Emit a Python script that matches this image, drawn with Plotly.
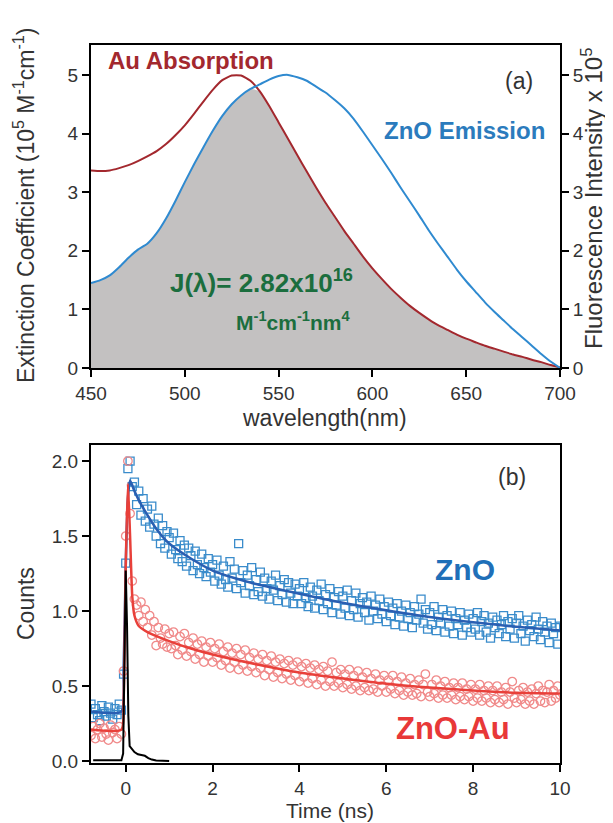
import plotly.graph_objects as go

# ---------------- Panel (a) data ----------------
wavelength_nm = [450, 455, 460, 465, 470, 475, 480, 485, 490, 495,
                 500, 505, 510, 515, 520, 525, 530, 535, 540, 545,
                 550, 555, 560, 565, 570, 575, 580, 585, 590, 595,
                 600, 605, 610, 615, 620, 625, 630, 635, 640, 645,
                 650, 655, 660, 665, 670, 675, 680, 685, 690, 695, 700]

au_absorption = [3.37, 3.36, 3.37, 3.41, 3.46, 3.53, 3.61, 3.70, 3.82, 3.97,
                 4.14, 4.34, 4.55, 4.75, 4.91, 4.99, 4.99, 4.90, 4.72, 4.47,
                 4.19, 3.91, 3.63, 3.35, 3.08, 2.82, 2.58, 2.34, 2.12, 1.90,
                 1.70, 1.52, 1.35, 1.20, 1.06, 0.94, 0.83, 0.73, 0.65, 0.57,
                 0.50, 0.44, 0.38, 0.33, 0.28, 0.23, 0.19, 0.14, 0.10, 0.05, 0.01]

zno_emission = [1.45, 1.50, 1.58, 1.72, 1.88, 2.02, 2.12, 2.30, 2.55, 2.85,
                3.17, 3.48, 3.77, 4.05, 4.30, 4.50, 4.65, 4.76, 4.84, 4.92,
                4.98, 5.00, 4.96, 4.90, 4.80, 4.70, 4.57, 4.43, 4.25, 4.03,
                3.80, 3.57, 3.33, 3.08, 2.84, 2.60, 2.35, 2.12, 1.90, 1.68,
                1.48, 1.30, 1.12, 0.96, 0.81, 0.66, 0.52, 0.38, 0.24, 0.11, 0.00]

overlap = [min(a, e) for a, e in zip(au_absorption, zno_emission)]

# ---------------- Panel (b) data ----------------
time_ns = [-0.80, -0.75, -0.70, -0.65, -0.60, -0.55, -0.50, -0.45, -0.40, -0.35,
           -0.30, -0.25, -0.20, -0.15, -0.10, -0.05, 0.00, 0.05, 0.10, 0.15,
           0.20, 0.25, 0.30, 0.35, 0.40, 0.45, 0.50, 0.55, 0.60, 0.65,
           0.70, 0.75, 0.80, 0.85, 0.90, 0.95,
           1.00, 1.05, 1.10, 1.15, 1.20, 1.25, 1.30, 1.35, 1.40, 1.45,
           1.50, 1.55, 1.60, 1.65, 1.70, 1.75, 1.80, 1.85, 1.90, 1.95,
           2.00, 2.05, 2.10, 2.15, 2.20, 2.25, 2.30, 2.35, 2.40, 2.45,
           2.50, 2.55, 2.60, 2.65, 2.70, 2.75, 2.80, 2.85, 2.90, 2.95,
           3.00, 3.05, 3.10, 3.15, 3.20, 3.25, 3.30, 3.35, 3.40, 3.45,
           3.50, 3.55, 3.60, 3.65, 3.70, 3.75, 3.80, 3.85, 3.90, 3.95,
           4.00, 4.05, 4.10, 4.15, 4.20, 4.25, 4.30, 4.35, 4.40, 4.45,
           4.50, 4.55, 4.60, 4.65, 4.70, 4.75, 4.80, 4.85, 4.90, 4.95,
           5.00, 5.05, 5.10, 5.15, 5.20, 5.25, 5.30, 5.35, 5.40, 5.45,
           5.50, 5.55, 5.60, 5.65, 5.70, 5.75, 5.80, 5.85, 5.90, 5.95,
           6.00, 6.05, 6.10, 6.15, 6.20, 6.25, 6.30, 6.35, 6.40, 6.45,
           6.50, 6.55, 6.60, 6.65, 6.70, 6.75, 6.80, 6.85, 6.90, 6.95,
           7.00, 7.05, 7.10, 7.15, 7.20, 7.25, 7.30, 7.35, 7.40, 7.45,
           7.50, 7.55, 7.60, 7.65, 7.70, 7.75, 7.80, 7.85, 7.90, 7.95,
           8.00, 8.05, 8.10, 8.15, 8.20, 8.25, 8.30, 8.35, 8.40, 8.45,
           8.50, 8.55, 8.60, 8.65, 8.70, 8.75, 8.80, 8.85, 8.90, 8.95,
           9.00, 9.05, 9.10, 9.15, 9.20, 9.25, 9.30, 9.35, 9.40, 9.45,
           9.50, 9.55, 9.60, 9.65, 9.70, 9.75, 9.80, 9.85, 9.90, 9.95,
           10.00]

zno_counts = [0.38, 0.29, 0.35, 0.31, 0.27, 0.37, 0.33, 0.30, 0.36, 0.32,
              0.28, 0.35, 0.31, 0.38, 0.34,
              0.58, 1.32, 1.95, 2.00, 1.83, 1.86, 1.71, 1.80, 1.64, 1.75,
              1.60, 1.68, 1.56, 1.70, 1.58, 1.50, 1.62, 1.45, 1.57, 1.42, 1.53,
              1.49, 1.38, 1.52, 1.41, 1.35, 1.47, 1.33, 1.44, 1.30, 1.42,
              1.37, 1.27, 1.40, 1.31, 1.25, 1.38, 1.29, 1.23, 1.35, 1.26,
              1.31, 1.20, 1.34, 1.24, 1.18, 1.30, 1.21, 1.16, 1.33, 1.22,
              1.28, 1.15, 1.45, 1.19, 1.27, 1.12, 1.24, 1.17, 1.29, 1.11,
              1.21, 1.13, 1.26, 1.10, 1.22, 1.15, 1.08, 1.20, 1.14, 1.24,
              1.07, 1.17, 1.11, 1.21, 1.06, 1.19, 1.12, 1.05, 1.18, 1.10,
              1.15, 1.05, 1.19, 1.09, 1.03, 1.16, 1.10, 1.02, 1.14, 1.07,
              1.18, 1.01, 1.11, 1.05, 1.15, 0.99, 1.09, 1.04, 1.13, 0.98,
              1.10, 1.02, 1.14, 0.97, 1.07, 1.01, 1.12, 0.96, 1.05, 1.09,
              0.99, 1.06, 0.94, 1.10, 1.00, 1.04, 0.95, 1.08, 0.98, 1.03,
              0.93, 1.06, 0.97, 1.02, 0.91, 1.05, 0.96, 1.00, 0.90, 1.04,
              0.95, 0.99, 0.89, 1.03, 0.94, 0.98, 1.08, 0.92, 1.01, 0.88,
              0.99, 0.91, 1.03, 0.87, 0.96, 0.92, 1.01, 0.86, 0.97, 0.90,
              1.00, 0.85, 0.95, 0.91, 0.99, 0.84, 0.94, 0.89, 0.98, 0.86,
              0.95, 0.88, 0.99, 0.84, 0.93, 0.97, 0.86, 0.92, 0.82, 0.96,
              0.89, 0.94, 0.85, 0.91, 0.97, 0.83, 0.93, 0.88, 0.95, 0.82,
              0.92, 0.97, 0.85, 0.90, 0.80, 0.94, 0.87, 0.91, 0.83, 0.96,
              0.88, 0.81, 0.93, 0.86, 0.90, 0.79, 0.92, 0.85, 0.89, 0.78,
              0.90]

znoau_counts = [0.17, 0.23, 0.15, 0.21, 0.25, 0.16, 0.22, 0.18, 0.14, 0.24,
                0.19, 0.21, 0.15, 0.23, 0.18,
                0.60, 1.50, 2.00, 1.65, 1.20, 1.08, 1.04, 0.97, 1.06, 0.93,
                1.01, 0.89, 0.97, 0.84, 0.93, 0.77, 0.89, 0.82, 0.78, 0.88, 0.76,
                0.85, 0.75, 0.86, 0.77, 0.71, 0.83, 0.74, 0.85, 0.70, 0.79,
                0.73, 0.82, 0.68, 0.78, 0.71, 0.80, 0.66, 0.76, 0.70, 0.79,
                0.66, 0.75, 0.69, 0.78, 0.64, 0.73, 0.67, 0.76, 0.62, 0.72,
                0.66, 0.75, 0.61, 0.71, 0.64, 0.74, 0.60, 0.69, 0.63, 0.72,
                0.59, 0.68, 0.62, 0.71, 0.57, 0.67, 0.61, 0.70, 0.56, 0.66,
                0.59, 0.68, 0.55, 0.65, 0.58, 0.67, 0.54, 0.64, 0.57, 0.66,
                0.53, 0.63, 0.56, 0.65, 0.52, 0.62, 0.55, 0.64, 0.51, 0.61,
                0.54, 0.63, 0.50, 0.60, 0.53, 0.66, 0.50, 0.59, 0.52, 0.61,
                0.49, 0.58, 0.51, 0.61, 0.48, 0.57, 0.50, 0.60, 0.47, 0.56,
                0.49, 0.59, 0.47, 0.55, 0.48, 0.58, 0.46, 0.54, 0.50, 0.57,
                0.46, 0.54, 0.48, 0.57, 0.45, 0.53, 0.47, 0.56, 0.44, 0.52,
                0.46, 0.55, 0.44, 0.51, 0.45, 0.54, 0.43, 0.51, 0.58, 0.46,
                0.43, 0.51, 0.45, 0.54, 0.42, 0.50, 0.44, 0.53, 0.42, 0.49,
                0.44, 0.52, 0.41, 0.49, 0.43, 0.52, 0.41, 0.48, 0.43, 0.51,
                0.40, 0.48, 0.42, 0.51, 0.40, 0.47, 0.42, 0.50, 0.39, 0.47,
                0.41, 0.50, 0.39, 0.46, 0.41, 0.49, 0.38, 0.46, 0.53, 0.42,
                0.39, 0.47, 0.41, 0.49, 0.38, 0.46, 0.40, 0.48, 0.38, 0.45,
                0.50, 0.40, 0.47, 0.39, 0.46, 0.51, 0.40, 0.47, 0.42, 0.50,
                0.44]

zno_fit_t = [-0.80, -0.10, -0.05, 0.00, 0.05, 0.10, 0.20, 0.30, 0.50, 0.75,
             1.00, 1.50, 2.00, 2.50, 3.00, 4.00, 5.00, 6.00, 7.00, 8.00, 9.00, 10.00]
zno_fit = [0.33, 0.33, 0.60, 1.30, 1.75, 1.87, 1.80, 1.74, 1.64, 1.53,
           1.45, 1.35, 1.27, 1.22, 1.18, 1.115, 1.055, 1.005, 0.96, 0.925, 0.895, 0.87]

znoau_fit_t = [-0.80, -0.10, -0.05, 0.00, 0.05, 0.10, 0.15, 0.20, 0.30, 0.50,
               1.00, 1.50, 2.00, 3.00, 4.00, 5.00, 6.00, 7.00, 8.00, 9.00, 10.00]
znoau_fit = [0.21, 0.21, 0.40, 1.30, 1.85, 1.50, 1.10, 0.97, 0.90, 0.86,
             0.80, 0.75, 0.71, 0.645, 0.59, 0.55, 0.515, 0.49, 0.47, 0.455, 0.45]

irf_t = [-0.75, -0.10, -0.06, -0.03, 0.00, 0.03, 0.06, 0.09, 0.14, 0.20,
         0.28, 0.36, 0.44, 0.52, 0.60, 0.70, 0.85, 1.00]
irf = [0.005, 0.005, 0.05, 0.60, 1.27, 0.90, 0.30, 0.10, 0.08, 0.06,
       0.045, 0.04, 0.035, 0.02, 0.01, 0.004, 0.002, 0.0]

# ---------------- styling ----------------
FONT = "Liberation Sans, Arial, sans-serif"
AU_RED = "#a3282e"
EM_BLUE = "#2f8ad0"
GRAY = "#c3c1c1"
GREEN = "#1b6e3e"
SQ_BLUE = "#3a8ccb"
FIT_BLUE = "#2a5fb2"
CIRC_RED = "#f08a8a"
FIT_RED = "#e8403a"

L, R, T, B = 83, 552, 37, 755
W, H = R - L, B - T


def px(x):
    return (x - L) / W


def py(y):
    return (B - y) / H


fig = go.Figure()

# panel (a)
fig.add_trace(go.Scatter(x=wavelength_nm, y=overlap, mode="lines",
                         line=dict(width=0, color=GRAY, shape="spline", smoothing=0.5),
                         fill="tozeroy", fillcolor=GRAY, xaxis="x", yaxis="y", showlegend=False,
                         hoverinfo="skip"))
fig.add_trace(go.Scatter(x=wavelength_nm, y=au_absorption, mode="lines",
                         line=dict(color=AU_RED, width=2, shape="spline", smoothing=0.5),
                         xaxis="x", yaxis="y", showlegend=False))
fig.add_trace(go.Scatter(x=wavelength_nm, y=zno_emission, mode="lines",
                         line=dict(color=EM_BLUE, width=2, shape="spline", smoothing=0.5),
                         xaxis="x", yaxis="y2", showlegend=False))

# panel (b)
fig.add_trace(go.Scatter(x=time_ns, y=zno_counts, mode="markers",
                         marker=dict(symbol="square-open", size=8, color=SQ_BLUE, line=dict(width=1.3)),
                         xaxis="x2", yaxis="y3", showlegend=False))
fig.add_trace(go.Scatter(x=time_ns, y=znoau_counts, mode="markers",
                         marker=dict(symbol="circle-open", size=8.5, color=CIRC_RED, line=dict(width=1.3)),
                         xaxis="x2", yaxis="y3", showlegend=False))
fig.add_trace(go.Scatter(x=zno_fit_t, y=zno_fit, mode="lines",
                         line=dict(color=FIT_BLUE, width=2.5, shape="spline", smoothing=0.6),
                         xaxis="x2", yaxis="y3", showlegend=False))
fig.add_trace(go.Scatter(x=znoau_fit_t, y=znoau_fit, mode="lines",
                         line=dict(color=FIT_RED, width=2.5, shape="spline", smoothing=0.6),
                         xaxis="x2", yaxis="y3", showlegend=False))
fig.add_trace(go.Scatter(x=irf_t, y=irf, mode="lines", line=dict(color="black", width=2),
                         xaxis="x2", yaxis="y3", showlegend=False))

axis_common = dict(showline=True, linecolor="black", linewidth=2, ticks="outside", ticklen=7,
                   tickwidth=2, tickcolor="black", showgrid=False, zeroline=False,
                   tickfont=dict(family=FONT, size=19, color="#333333"))

top_lo = py(360)
bot_hi = py(437)

fig.update_layout(
    width=613, height=823,
    margin=dict(l=L, r=613 - R, t=T, b=823 - B, pad=0),
    paper_bgcolor="white", plot_bgcolor="white",
    font=dict(family=FONT, color="#333333"),
    xaxis=dict(domain=[0, 1], anchor="y", range=[450, 700], tickvals=[450, 500, 550, 600, 650, 700],
               mirror=True, **axis_common),
    yaxis=dict(domain=[top_lo, 1], anchor="x", range=[0, 5.51], tickvals=[0, 1, 2, 3, 4, 5],
               **axis_common),
    yaxis2=dict(overlaying="y", side="right", anchor="x", range=[0, 5.51], tickvals=[0, 1, 2, 3, 4, 5],
                **axis_common),
    xaxis2=dict(domain=[0, 1], anchor="y3", range=[-0.8, 10], tickvals=[0, 2, 4, 6, 8, 10],
                mirror=True, **axis_common),
    yaxis3=dict(domain=[0, bot_hi], anchor="x2", range=[-0.013, 2.107], tickvals=[0, 0.5, 1.0, 1.5, 2.0],
                ticktext=["0.0", "0.5", "1.0", "1.5", "2.0"], mirror=True, **axis_common),
)

ann = []


def add_text(text, x, y, size, color="#333333", bold=False, angle=0, xanchor="center", yanchor="middle"):
    t = f"<b>{text}</b>" if bold else text
    ann.append(dict(text=t, x=px(x), y=py(y), xref="paper", yref="paper", showarrow=False,
                    textangle=angle, xanchor=xanchor, yanchor=yanchor,
                    font=dict(family=FONT, size=size, color=color)))


# axis titles
add_text("Extinction Coefficient (10<sup>5</sup> M<sup>-1</sup>cm<sup>-1</sup>)", 16, 198, 23, angle=-90)
add_text("Fluorescence Intensity x 10<sup>5</sup>", 584, 190, 24, angle=-90)
add_text("wavelength(nm)", 316, 410, 23)
add_text("Counts", 18, 596, 23, angle=-90)
add_text("Time (ns)", 322, 802.5, 21)

# panel (a) labels
add_text("Au Absorption", 183, 52, 24, color=AU_RED, bold=True)
add_text("(a)", 511, 73, 23)
add_text("ZnO Emission", 539, 123, 24, color="#2b7bbd", bold=True, xanchor="right")
add_text("J(λ)= 2.82x10<sup>16</sup>", 160, 273, 26, color=GREEN, bold=True, xanchor="left")
add_text("M<sup>-1</sup>cm<sup>-1</sup>nm<sup>4</sup>", 285, 313, 21, color=GREEN, bold=True)

# panel (b) labels
add_text("(b)", 504, 469, 23)
add_text("ZnO", 457, 561, 30, color="#1f6fb8", bold=True)
add_text("ZnO-Au", 445, 720, 31, color="#e83838", bold=True)

fig.update_layout(annotations=ann)

fig.write_html("out.html")
